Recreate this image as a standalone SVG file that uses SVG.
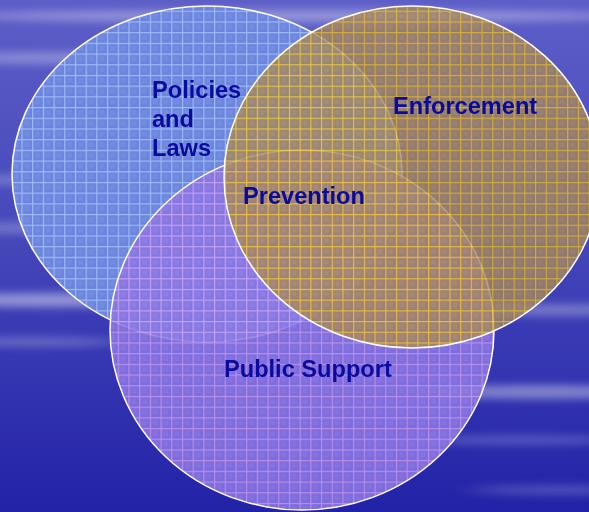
<svg xmlns="http://www.w3.org/2000/svg" width="589" height="512" viewBox="0 0 589 512">
<style>
.lbl{font-family:"Liberation Sans",Arial,sans-serif;font-weight:bold;font-size:23.6px;fill:#0a0a9e}
.edge{stroke:#ffffff;stroke-width:1.5}
</style>
<defs>
<linearGradient id="bg" x1="0" y1="0" x2="0" y2="1">
<stop offset="0" stop-color="#5e5ec8"/>
<stop offset="0.45" stop-color="#4648ba"/>
<stop offset="1" stop-color="#2222a8"/>
</linearGradient>
<filter id="blur" x="-30%" y="-300%" width="160%" height="700%"><feGaussianBlur stdDeviation="14 4"/></filter>
<pattern id="gBlue" width="10.7" height="10.7" patternUnits="userSpaceOnUse">
<rect width="10.7" height="10.7" fill="#6c84dd"/>
<rect x="3" y="3" width="5" height="5" fill="#7890e2" opacity="0.6"/>
<path d="M0 0.6H10.7M0.6 0V10.7" stroke="#9cbcf4" stroke-width="1.2"/>
</pattern>
<pattern id="gPurple" width="10.7" height="10.7" patternUnits="userSpaceOnUse">
<rect width="10.7" height="10.7" fill="#8a74e2"/>
<rect x="3" y="3" width="5" height="5" fill="#9682e8" opacity="0.6"/>
<path d="M0 0.6H10.7M0.6 0V10.7" stroke="#c89ef2" stroke-width="1.2"/>
</pattern>
<pattern id="gGold" width="10.7" height="10.7" patternUnits="userSpaceOnUse">
<rect width="10.7" height="10.7" fill="#a48658"/>
<rect x="3" y="3" width="5" height="5" fill="#b09262" opacity="0.6"/>
<path d="M0 0.6H10.7M0.6 0V10.7" stroke="#f2c21e" stroke-width="1.2"/>
</pattern>
</defs>
<rect width="589" height="512" fill="url(#bg)"/>
<g fill="#ffffff" filter="url(#blur)">
<ellipse cx="300" cy="16" rx="340" ry="6" opacity="0.35"/>
<ellipse cx="60" cy="58" rx="130" ry="6" opacity="0.3"/>
<ellipse cx="40" cy="180" rx="100" ry="5" opacity="0.25"/>
<ellipse cx="60" cy="228" rx="120" ry="6" opacity="0.25"/>
<ellipse cx="50" cy="300" rx="130" ry="7" opacity="0.45"/>
<ellipse cx="30" cy="342" rx="90" ry="5" opacity="0.25"/>
<ellipse cx="560" cy="310" rx="100" ry="6" opacity="0.3"/>
<ellipse cx="540" cy="392" rx="120" ry="7" opacity="0.4"/>
<ellipse cx="520" cy="440" rx="100" ry="5" opacity="0.2"/>
<ellipse cx="560" cy="490" rx="90" ry="5" opacity="0.2"/>
</g>
<g id="policies">
<ellipse cx="207" cy="174" rx="195" ry="168" fill="url(#gBlue)" class="edge"/>
</g>
<g id="public-support">
<ellipse cx="302" cy="330" rx="192" ry="180" fill="url(#gPurple)" fill-opacity="0.88" class="edge"/>
</g>
<g id="enforcement">
<ellipse cx="412" cy="177" rx="188" ry="171" fill="url(#gGold)" fill-opacity="0.8" class="edge"/>
</g>
<g id="labels">
<text class="lbl" x="152" y="98">Policies</text>
<text class="lbl" x="152" y="127">and</text>
<text class="lbl" x="152" y="156">Laws</text>
<text class="lbl" x="393" y="114">Enforcement</text>
<text class="lbl" x="243" y="204">Prevention</text>
<text class="lbl" x="224" y="377">Public Support</text>
</g>
<g id="connectors"/>
</svg>
